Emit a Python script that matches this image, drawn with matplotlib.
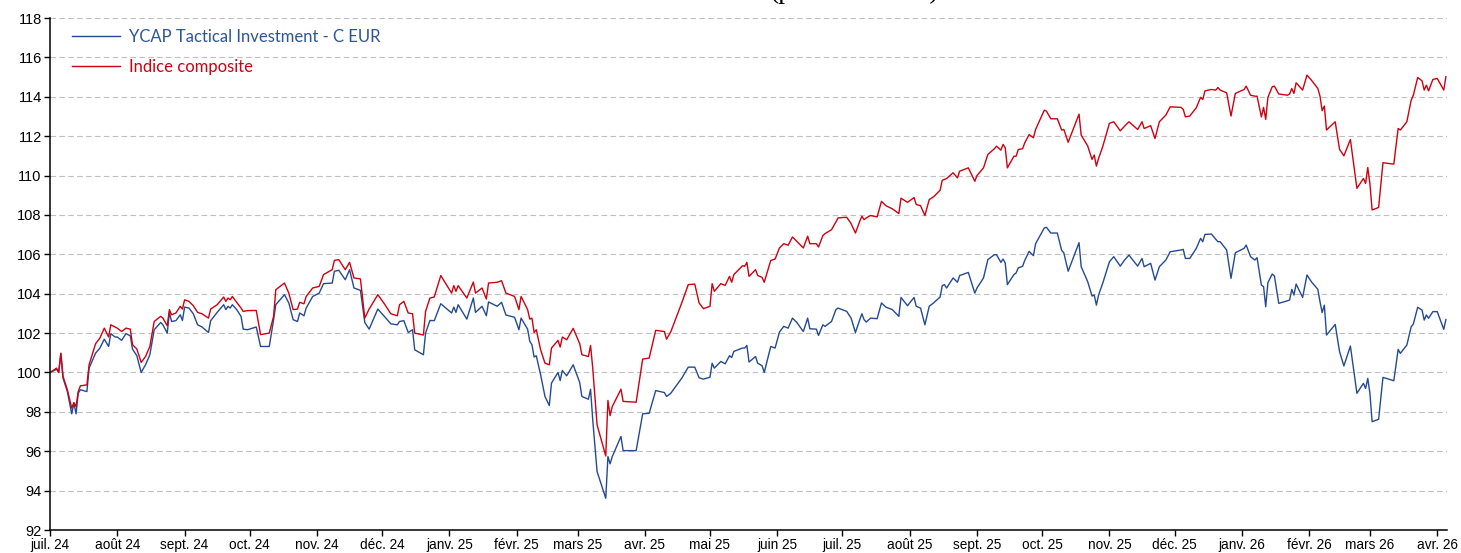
import numpy as np
import pandas as pd
import matplotlib
matplotlib.use("Agg")
import matplotlib.pyplot as plt

# jours depuis le 1er juillet 2024
jours = [0, 2, 3, 4, 5, 6, 8, 10, 11, 12, 13, 14, 17, 18, 21, 23, 25, 27, 28, 30,
         31, 33, 35, 37, 38, 40, 42, 44, 46, 48, 51, 52, 54, 55, 56, 58, 60, 61, 62, 64,
         66, 68, 70, 73, 74, 77, 80, 81, 82, 83, 84, 86, 88, 89, 91, 95, 97, 101, 103, 104,
         108, 110, 112, 114, 115, 117, 118, 121, 124, 126, 130, 131, 133, 136, 138, 140, 143, 145, 147, 151,
         154, 157, 160, 161, 163, 165, 167, 168, 172, 173, 175, 177, 180, 185, 186, 187, 188, 192, 195, 196,
         199, 201, 202, 206, 208, 210, 214, 216, 217, 220, 221, 222, 223, 224, 226, 228, 230, 231, 234, 235,
         236, 238, 241, 244, 245, 248, 249, 250, 252, 256, 257, 258, 259, 263, 264, 270, 273, 276, 279, 283,
         284, 286, 291, 294, 297, 299, 301, 304, 305, 306, 309, 311, 313, 314, 315, 319, 320, 321, 322, 325,
         326, 328, 329, 332, 334, 336, 338, 340, 342, 344, 347, 349, 350, 353, 354, 356, 357, 360, 362, 363,
         367, 369, 371, 373, 374, 375, 376, 378, 381, 383, 385, 388, 391, 392, 395, 398, 399, 401, 403, 405,
         407, 410, 411, 412, 413, 416, 418, 419, 423, 426, 427, 430, 432, 435, 436, 438, 439, 440, 441, 444,
         445, 446, 448, 449, 451, 453, 454, 458, 459, 461, 464, 466, 467, 469, 474, 475, 478, 480, 481, 482,
         483, 485, 488, 490, 493, 495, 497, 501, 503, 504, 507, 509, 511, 514, 516, 521, 522, 523, 525, 528,
         530, 531, 532, 535, 537, 538, 539, 542, 544, 546, 550, 551, 553, 555, 556, 558, 559, 560, 561, 563,
         564, 566, 570, 571, 572, 573, 574, 577, 579, 581, 584, 585, 586, 587, 588, 592, 594, 596, 599, 602,
         605, 606, 607, 608, 609, 612, 614, 619, 621, 622, 625, 627, 628, 630, 632, 633, 634, 635, 637, 639,
         642, 643]

indice = [100.0, 100.14, 100.22, 100.0, 100.98, 99.80, 99.12, 98.19, 98.47, 98.27, 99.03, 99.32, 99.37, 100.39, 101.46, 101.75, 102.25, 101.80, 102.42, 102.31,
          102.25, 102.08, 102.25, 102.20, 101.41, 101.19, 100.51, 100.81, 101.32, 102.59, 102.85, 102.76, 102.37, 103.19, 102.93, 103.02, 103.36, 103.22, 103.69, 103.61,
          103.39, 103.05, 102.98, 102.76, 103.22, 103.44, 103.83, 103.61, 103.78, 103.69, 103.86, 103.56, 103.27, 103.10, 103.14, 103.15, 101.92, 102.0, 102.85, 104.20,
          104.54, 104.03, 103.19, 103.22, 103.56, 103.49, 103.86, 104.29, 104.37, 104.97, 105.22, 105.69, 105.73, 105.22, 105.59, 104.80, 104.75, 102.76, 103.22, 103.95,
          103.49, 102.98, 102.88, 103.44, 103.61, 103.02, 102.98, 102.0, 101.90, 103.10, 103.78, 103.83, 104.92, 104.03, 104.41, 104.12, 104.41, 103.78, 104.59, 104.03,
          104.29, 103.73, 104.54, 104.58, 104.66, 104.03, 103.86, 103.19, 103.86, 103.19, 102.71, 102.76, 102.03, 102.17, 101.15, 100.47, 100.39, 101.24, 101.63, 101.29,
          101.80, 101.66, 102.24, 101.46, 100.90, 100.81, 101.37, 100.22, 97.34, 95.76, 98.58, 97.81, 98.27, 99.15, 98.53, 98.49, 100.68, 100.73, 102.14, 102.08,
          101.69, 102.08, 103.53, 104.46, 104.49, 103.53, 103.24, 103.36, 104.51, 104.12, 104.51, 104.42, 104.88, 104.58, 104.97, 105.42, 105.39, 105.59, 104.88, 105.22,
          104.92, 104.83, 104.58, 105.69, 105.76, 106.32, 106.54, 106.46, 106.88, 106.66, 106.32, 106.92, 106.54, 106.54, 106.37, 106.95, 107.05, 107.25, 107.64, 107.85,
          107.88, 107.56, 107.08, 107.68, 107.93, 107.76, 107.85, 107.97, 107.90, 108.69, 108.47, 108.31, 108.07, 108.85, 108.64, 108.88, 108.53, 108.47, 107.97, 108.78,
          108.92, 109.25, 109.76, 109.80, 109.85, 110.14, 109.88, 110.22, 110.39, 109.71, 110.0, 110.39, 111.07, 111.36, 111.49, 111.29, 111.58, 111.41, 110.39, 110.98,
          110.98, 111.32, 111.36, 111.66, 112.08, 111.92, 112.34, 113.32, 113.27, 112.88, 112.88, 112.31, 112.34, 111.69, 113.12, 112.05, 111.50, 110.82, 111.04, 110.48,
          110.87, 111.50, 112.65, 112.73, 112.27, 112.51, 112.73, 112.34, 112.73, 112.39, 112.53, 111.88, 112.73, 113.07, 113.49, 113.46, 113.36, 112.98, 113.02, 113.44,
          113.97, 113.86, 114.30, 114.37, 114.34, 114.47, 114.34, 114.20, 113.02, 114.17, 114.37, 114.54, 114.08, 114.03, 114.03, 112.98, 113.46, 112.85, 113.97, 114.51,
          114.54, 114.14, 114.08, 114.14, 114.42, 114.17, 114.71, 114.34, 115.10, 114.85, 114.42, 114.03, 113.29, 113.53, 112.31, 112.73, 111.33, 111.00, 111.83, 109.35,
          109.85, 109.60, 110.41, 109.57, 108.25, 108.38, 110.65, 110.58, 112.39, 112.31, 112.73, 113.83, 114.08, 114.98, 114.81, 114.34, 114.59, 114.30, 114.88, 114.93,
          114.34, 115.02]

ycap = [100.0, 100.10, 100.17, 100.0, 100.95, 99.71, 99.03, 97.90, 98.44, 97.90, 98.95, 99.12, 99.03, 100.22, 100.98, 101.24, 101.69, 101.32, 101.97, 101.80,
        101.80, 101.63, 101.97, 101.86, 101.19, 100.85, 100.0, 100.39, 100.90, 102.17, 102.54, 102.42, 102.0, 103.05, 102.59, 102.63, 102.93, 102.64, 103.32, 103.27,
        102.98, 102.42, 102.31, 102.03, 102.63, 103.05, 103.44, 103.19, 103.36, 103.27, 103.44, 103.19, 102.85, 102.20, 102.17, 102.31, 101.32, 101.32, 102.68, 103.44,
        103.95, 103.53, 102.68, 102.59, 103.02, 102.88, 103.27, 103.86, 104.03, 104.51, 104.54, 105.14, 105.19, 104.71, 105.22, 104.29, 104.17, 102.54, 102.20, 103.22,
        102.85, 102.47, 102.42, 102.59, 102.63, 102.03, 102.17, 101.15, 100.90, 102.0, 102.64, 102.63, 103.49, 103.02, 103.32, 103.05, 103.44, 102.71, 103.78, 103.05,
        103.36, 102.88, 103.58, 103.36, 103.56, 102.92, 102.80, 102.17, 102.76, 102.20, 101.58, 101.41, 100.78, 100.85, 99.88, 98.78, 98.32, 99.46, 100.0, 99.59,
        100.10, 99.83, 100.39, 99.49, 98.78, 98.64, 99.15, 97.59, 94.97, 93.61, 95.73, 95.36, 95.73, 96.75, 96.03, 96.03, 97.90, 97.93, 99.08, 98.98,
        98.78, 98.95, 99.71, 100.27, 100.27, 99.73, 99.66, 99.76, 100.47, 100.22, 100.56, 100.44, 100.85, 100.76, 101.07, 101.24, 101.24, 101.37, 100.53, 100.81,
        100.47, 100.34, 100.0, 101.32, 101.24, 102.05, 102.34, 102.25, 102.76, 102.54, 102.08, 102.76, 102.22, 102.20, 101.88, 102.42, 102.34, 102.59, 103.19, 103.27,
        103.10, 102.76, 102.03, 102.68, 102.98, 102.68, 102.56, 102.76, 102.73, 103.53, 103.32, 103.19, 102.85, 103.81, 103.39, 103.81, 103.36, 103.27, 102.42, 103.36,
        103.53, 103.83, 104.41, 104.46, 104.29, 104.80, 104.58, 104.92, 105.08, 104.03, 104.29, 104.80, 105.73, 105.98, 105.98, 105.59, 105.76, 105.56, 104.46, 104.97,
        105.05, 105.31, 105.39, 105.69, 106.15, 105.93, 106.54, 107.34, 107.37, 107.08, 107.08, 106.20, 106.07, 105.14, 106.59, 105.37, 104.61, 103.88, 103.93, 103.42,
        103.93, 104.56, 105.62, 105.88, 105.40, 105.71, 105.96, 105.40, 105.79, 105.37, 105.54, 104.69, 105.37, 105.71, 106.13, 106.22, 106.25, 105.79, 105.79, 106.30,
        106.81, 106.64, 107.01, 107.03, 106.76, 106.64, 106.64, 106.22, 104.78, 106.08, 106.30, 106.47, 105.88, 105.71, 105.83, 104.44, 104.36, 103.34, 104.56, 105.00,
        104.90, 103.51, 103.64, 103.68, 104.22, 103.93, 104.49, 103.81, 104.95, 104.61, 104.22, 103.59, 103.04, 103.42, 101.90, 102.44, 101.06, 100.33, 101.34, 98.94,
        99.45, 99.19, 99.70, 98.94, 97.50, 97.62, 99.75, 99.58, 101.17, 100.97, 101.39, 102.32, 102.46, 103.31, 103.17, 102.66, 102.92, 102.75, 103.09, 103.09,
        102.19, 102.69]

mois = ["juil. 24", "août 24", "sept. 24", "oct. 24", "nov. 24", "déc. 24",
        "janv. 25", "févr. 25", "mars 25", "avr. 25", "mai 25", "juin 25",
        "juil. 25", "août 25", "sept. 25", "oct. 25", "nov. 25", "déc. 25",
        "janv. 26", "févr. 26", "mars 26", "avr. 26"]

dates = pd.Timestamp("2024-07-01") + pd.to_timedelta(jours, unit="D")
ticks = pd.date_range("2024-07-01", periods=len(mois), freq="MS")

bleu = "#244A92"
rouge = "#CF0010"

fig = plt.figure(figsize=(14.61, 5.53), dpi=100)
ax = fig.add_axes([50 / 1461, 23 / 553, 1397 / 1461, 512 / 553])

ax.plot(dates, ycap, color=bleu, lw=1.0, label="YCAP Tactical Investment - C EUR")
ax.plot(dates, indice, color=rouge, lw=1.0, label="Indice composite")

ax.set_ylim(92, 118)
ax.set_yticks(np.arange(92, 119, 2))
ax.set_xlim(dates[0], dates[-1] + pd.Timedelta(days=0.5))
ax.set_xticks(ticks)
ax.set_xticklabels(mois)

ax.grid(axis="y", color="#C0C0C0", linestyle=(0, (5, 3)), lw=0.8)
ax.set_axisbelow(True)
for s in ["top", "right"]:
    ax.spines[s].set_visible(False)
for s in ["left", "bottom"]:
    ax.spines[s].set_linewidth(1.1)
ax.tick_params(axis="both", direction="out", length=4, width=1.0, pad=2,
               labelfontfamily="Liberation Sans")
ax.tick_params(axis="y", labelsize=10.5)
ax.tick_params(axis="x", labelsize=9.8)

leg = ax.legend(loc="upper left", bbox_to_anchor=(0.0157, 0.978), frameon=False,
                prop={"family": "Lato", "size": 12}, handlelength=2.87,
                handletextpad=0.54, labelspacing=0.82, borderpad=0, borderaxespad=0)
for t, c in zip(leg.get_texts(), ["#2F5597", rouge]):
    t.set_color(c)

fig.text(855 / 1461, 1 + 2 / 553, "(performances)", ha="center", va="baseline",
         family="Liberation Serif", fontsize=20)

fig.savefig("out.png", dpi=100)
